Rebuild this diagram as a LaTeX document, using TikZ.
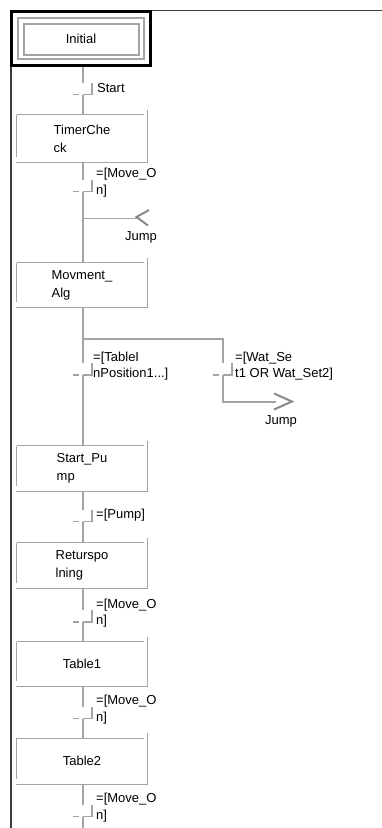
\documentclass[tikz,border=0pt]{standalone}
\usepackage{fontspec}
\setmainfont{Liberation Sans}
\definecolor{ln}{HTML}{A4A4A4}
\definecolor{frm}{HTML}{3C3C3C}
\definecolor{jmp}{HTML}{8A8A8A}
\tikzset{
  conn/.style={draw=ln, line width=1.3pt},
  lbl/.style={font=\fontsize{13}{16.5}\selectfont, inner sep=0pt, align=left},
  boxtxt/.style={font=\fontsize{13}{18}\selectfont, inner sep=0pt, align=left, minimum width=130pt},
  jumparrow/.style={draw=jmp, line width=2pt},
}
% name, top, bottom, text
\newcommand\sfcbox[4]{%
  \node[boxtxt, minimum height={(#3-#2)*1pt}] (#1) at (82,{(#2+#3)/2}) {#4};
  \draw[conn] (#1.north west) -- ([xshift=-3pt]#1.north east);
  \draw[conn] (#1.north west) -- ([yshift=5pt]#1.south west);
  \draw[conn] ([yshift=5pt]#1.north east) -- (#1.south east);
  \draw[conn] ([xshift=-1pt]#1.south west) -- ([xshift=1pt]#1.south east);
}
% name, x, y of crossbar
\newcommand\sfctrans[3]{%
  \coordinate (#1) at (#2,#3);
  \coordinate (#1up) at ([yshift=12pt]#1);
  \draw[conn] ([xshift=-10pt]#1) -- ([xshift=-4pt]#1);
  \draw[conn] (#1) -- ([xshift=9pt]#1) -- ([xshift=9pt,yshift=12pt]#1);
}
\begin{document}
\begin{tikzpicture}[x=1pt,y=-1pt]
\useasboundingbox (0,0) rectangle (382,828);
\fill[white] (0,0) rectangle (382,828);

% frame
\draw[frm, line width=1.2pt] (11,828) -- (11,10.5) -- (382,10.5);

% initial step
\node[inner sep=0pt, minimum width=142pt, minimum height=57pt, font=\fontsize{13}{16}\selectfont] (init) at (81,38.5) {Initial};
\draw[ln, line width=1.2pt] (18,18) rectangle (144,59);
\draw[ln, line width=1.2pt] (24,24) rectangle (139,55);
\draw[black, line width=3pt] (11.5,11.5) rectangle (150.5,65.5);

% steps
\sfcbox{timer}{115}{162}{TimerChe\\ck}
\sfcbox{mov}{263}{307}{Movment\_\\Alg}
\sfcbox{pump}{446}{491}{Start\_Pu\\mp}
\sfcbox{ret}{543}{588}{Returspo\\lning}
\sfcbox{tab1}{642}{686}{Table1}
\sfcbox{tab2}{738.5}{784}{Table2}

% transitions
\sfctrans{t1}{83}{94.5}
\sfctrans{t2}{83}{191.5}
\sfctrans{t3}{83}{375}
\sfctrans{t4}{223}{375}
\sfctrans{t5}{83}{521.5}
\sfctrans{t6}{83}{622}
\sfctrans{t7}{83}{718.5}
\sfctrans{t8}{83}{816.5}

% transition labels
\node[lbl, anchor=west] (l1) at ([xshift=14pt,yshift=6pt]t1) {Start};
\node[lbl, anchor=west] (l2) at ([xshift=13pt,yshift=9pt]t2) {=[Move\_O\\n]};
\node[lbl, anchor=west] (l3) at ([xshift=10pt,yshift=9pt]t3) {=[TableI\\nPosition1...]};
\node[lbl, anchor=west] (l4) at ([xshift=12pt,yshift=9pt]t4) {=[Wat\_Se\\t1 OR Wat\_Set2]};
\node[lbl, anchor=west] (l5) at ([xshift=13pt,yshift=6pt]t5) {=[Pump]};
\node[lbl, anchor=west] (l6) at ([xshift=13pt,yshift=9pt]t6) {=[Move\_O\\n]};
\node[lbl, anchor=west] (l7) at ([xshift=13pt,yshift=9pt]t7) {=[Move\_O\\n]};
\node[lbl, anchor=west] (l8) at ([xshift=13pt,yshift=9pt]t8) {=[Move\_O\\n]};

% main connectors
\draw[conn] (init.south -| t1) -- (t1up);
\draw[conn] (t1) -- (timer.north -| t1);
\draw[conn] (timer.south -| t2) -- (t2up);
\draw[conn] (t2) -- (mov.north -| t2);

% incoming jump
\coordinate (j1) at (83,218.5);
\coordinate (j1tip) at (137,218.5);
\draw[conn] (j1) -- (j1tip);
\draw[jumparrow] (149,210) -- (136.5,217) -- (148,225.5);
\node[lbl, anchor=center] (jl1) at (141,237) {Jump};

% branch
\coordinate (br) at (83,339);
\coordinate (brr) at (223,339);
\draw[conn] (mov.south -| br) -- (br) -- (brr) -- (t4up);
\draw[conn] (br) -- (t3up);
\draw[conn] (t3) -- (pump.north -| t3);

% outgoing jump
\coordinate (j2) at (223,402);
\coordinate (j2tip) at (276,402);
\draw[conn] (t4) -- (j2) -- (j2tip);
\draw[jumparrow] (274,393.5) -- (292,401.5) -- (274,409.5);
\node[lbl, anchor=center] (jl2) at (281,421) {Jump};

% lower chain
\draw[conn] (pump.south -| t5) -- (t5up);
\draw[conn] (t5) -- (ret.north -| t5);
\draw[conn] (ret.south -| t6) -- (t6up);
\draw[conn] (t6) -- (tab1.north -| t6);
\draw[conn] (tab1.south -| t7) -- (t7up);
\draw[conn] (t7) -- (tab2.north -| t7);
\draw[conn] (tab2.south -| t8) -- (t8up);
\coordinate (bot) at (83,828);
\draw[conn] (t8) -- (bot);
\end{tikzpicture}
\end{document}
